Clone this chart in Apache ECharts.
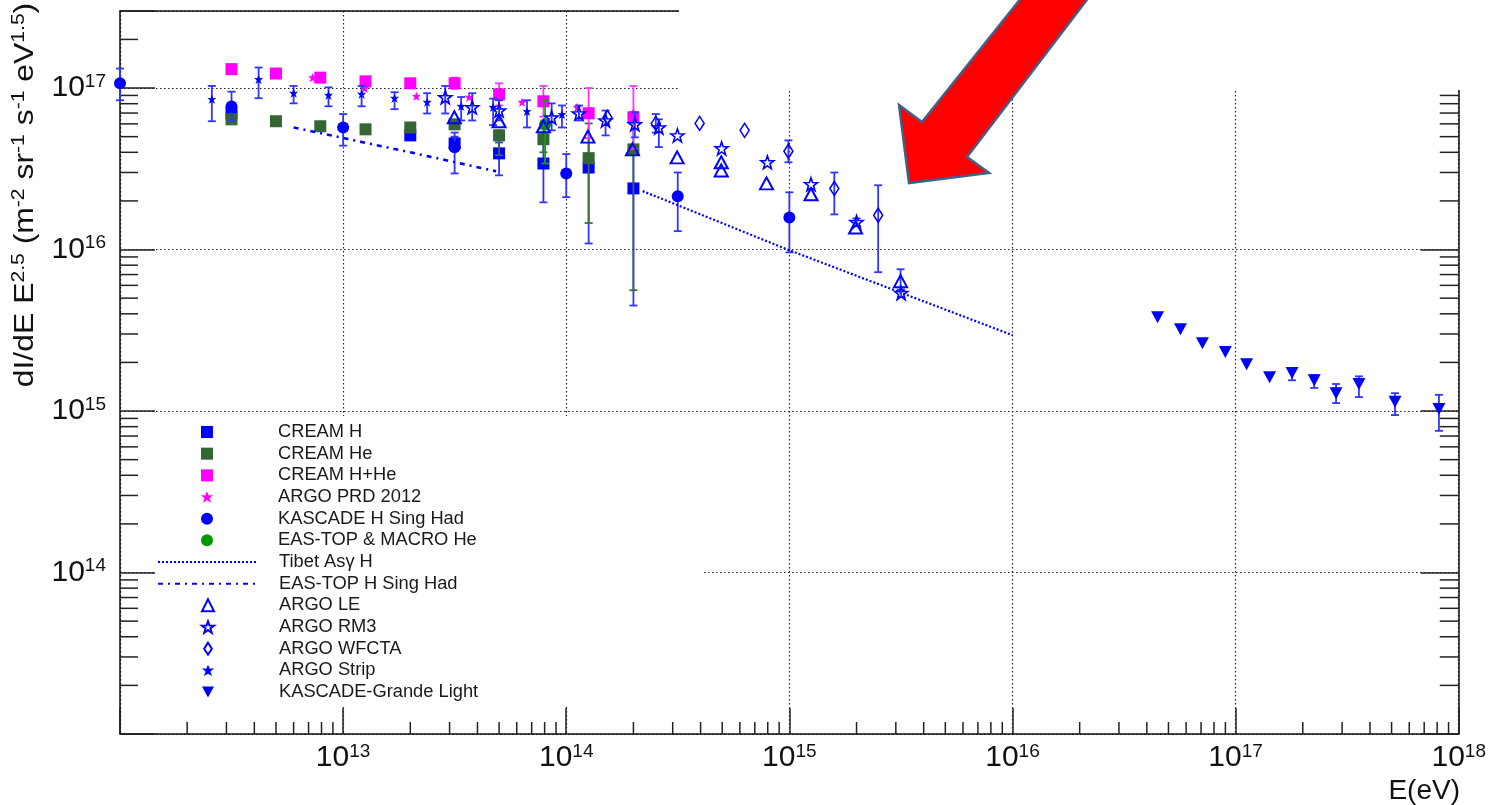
<!DOCTYPE html>
<html>
<head>
<meta charset="utf-8">
<script src="https://cdn.jsdelivr.net/npm/echarts@6/dist/echarts.min.js"></script>
<style>
  html, body { margin: 0; padding: 0; background: #fff; }
  #chart { width: 1489px; height: 805px; }
</style>
</head>
<body>
<div id="chart"></div>
<script>
// Proton / light-component spectra, flux multiplied by E^2.5
// Energies in eV, fluxes in m^-2 sr^-1 s^-1 eV^1.5

const creamBinsE = [3.16e12, 5.0e12, 7.9e12, 1.26e13, 2.0e13, 3.16e13, 5.0e13, 7.9e13, 1.26e14, 2.0e14];

const creamH_E  = [3.16e12, 2.0e13, 3.16e13, 5.0e13, 7.9e13, 1.26e14, 2.0e14];
const creamH_F  = [6.98e16, 5.09e16, 4.54e16, 3.94e16, 3.41e16, 3.22e16, 2.39e16];
const creamH_lo = [null, null, 4.1e16, 2.88e16, 1.96e16, 1.09e16, 4.5e15];
const creamH_hi = [null, null, 5.0e16, 4.6e16, 4.6e16, 4.9e16, 4.1e16];

const creamHe_F  = [6.4e16, 6.23e16, 5.8e16, 5.55e16, 5.7e16, 5.96e16, 5.09e16, 4.82e16, 3.68e16, 4.17e16];
const creamHe_lo = [null, null, null, null, null, null, 3.84e16, 4.0e16, 1.46e16, 5.6e15];
const creamHe_hi = [null, null, null, null, null, null, 5.47e16, 5.6e16, 6.04e16, 6.98e16];

const creamHHe_F  = [1.31e17, 1.23e17, 1.16e17, 1.10e17, 1.07e17, 1.07e17, 9.14e16, 8.28e16, 6.98e16, 6.59e16];
const creamHHe_lo = [null, null, null, null, 1.0e17, 9.9e16, 7.8e16, 6.65e16, 4.9e16, 4.2e16];
const creamHHe_hi = [null, null, null, null, 1.14e17, 1.16e17, 1.07e17, 1.03e17, 1.0e17, 1.03e17];

const argoPrd_E = [7.3e12, 1.25e13, 2.13e13, 3.67e13, 6.34e13, 1.12e14, 2.0e14];
const argoPrd_F = [1.16e17, 9.95e16, 8.89e16, 8.77e16, 8.17e16, 7.6e16, 7.06e16];

const kascadeH_E  = [1.0e12, 3.16e12, 1.0e13, 3.16e13, 1.0e14, 3.16e14, 1.0e15];
const kascadeH_F  = [1.07e17, 7.7e16, 5.7e16, 4.3e16, 2.96e16, 2.14e16, 1.58e16];
const kascadeH_lo = [8.4e16, 6.3e16, 4.4e16, 2.96e16, 2.11e16, 1.30e16, 9.6e15];
const kascadeH_hi = [1.32e17, 9.5e16, 6.9e16, 5.3e16, 3.9e16, 3.0e16, 2.26e16];

const eastopMacro_E  = [8.04e13];
const eastopMacro_F  = [5.96e16];
const eastopMacro_lo = [3.41e16];
const eastopMacro_hi = [8.4e16];

const tibet_E = [2.2e14, 1.0e15, 1.0e16];
const tibet_F = [2.3e16, 9.9e15, 2.95e15];

const eastopH_E = [6.0e12, 2.0e13, 4.85e13];
const eastopH_F = [5.7e16, 4.0e16, 3.05e16];

const argoLE_E  = [3.15e13, 5.0e13, 7.9e13, 1.25e14, 1.98e14, 3.14e14, 4.95e14, 4.95e14, 7.9e14, 1.25e15, 1.98e15, 3.15e15];
const argoLE_F  = [6.59e16, 6.23e16, 5.8e16, 5.0e16, 4.17e16, 3.72e16, 3.47e16, 3.09e16, 2.57e16, 2.2e16, 1.37e16, 6.37e15];
const argoLE_lo = [null, null, null, null, null, null, null, null, null, null, null, 5.6e15];
const argoLE_hi = [null, null, null, null, null, null, null, null, null, null, null, 7.55e15];

const argoRM3_E  = [2.87e13, 3.79e13, 5.0e13, 8.6e13, 1.14e14, 1.5e14, 2.03e14, 2.6e14, 3.15e14, 4.97e14, 7.97e14, 1.25e15, 2.0e15, 3.17e15];
const argoRM3_F  = [8.77e16, 7.6e16, 7.26e16, 6.57e16, 6.96e16, 6.3e16, 5.97e16, 5.7e16, 5.09e16, 4.23e16, 3.47e16, 2.54e16, 1.48e16, 5.37e15];
const argoRM3_lo = [6.96e16, 6.3e16, 6.3e16, 5.47e16, 6.3e16, 5.09e16, 4.95e16, 4.31e16, null, null, null, null, 1.4e16, 5.1e15];
const argoRM3_hi = [1.03e17, 9.29e16, 8.4e16, 8.04e16, 7.8e16, 7.26e16, 7.06e16, 6.4e16, null, null, null, null, 1.56e16, 5.65e15];

const argoWFCTA_E  = [1.53e14, 2.52e14, 3.96e14, 6.3e14, 9.9e14, 1.59e15, 2.5e15];
const argoWFCTA_F  = [6.57e16, 6.04e16, 6.04e16, 5.47e16, 4.06e16, 2.39e16, 1.63e16];
const argoWFCTA_lo = [null, 5.3e16, null, null, 3.47e16, 1.65e16, 7.24e15];
const argoWFCTA_hi = [null, 6.9e16, null, null, 4.74e16, 3.0e16, 2.5e16];

const argoStrip_E  = [2.58e12, 4.18e12, 6.0e12, 8.6e12, 1.21e13, 1.7e13, 2.38e13, 3.38e13, 4.7e13, 6.67e13, 9.57e13];
const argoStrip_F  = [8.51e16, 1.13e17, 9.29e16, 9.02e16, 9.16e16, 8.65e16, 8.17e16, 7.71e16, 7.6e16, 7.17e16, 6.87e16];
const argoStrip_lo = [6.23e16, 8.65e16, 8.04e16, 7.71e16, 7.71e16, 7.4e16, 6.96e16, 6.3e16, 5.9e16, 5.7e16, 5.7e16];
const argoStrip_hi = [1.03e17, 1.34e17, 1.03e17, 1.01e17, 1.03e17, 9.42e16, 9.29e16, 8.8e16, 8.6e16, 8.4e16, 7.8e16];

const kgLight_E  = [4.47e16, 5.66e16, 7.1e16, 8.99e16, 1.12e17, 1.42e17, 1.79e17, 2.25e17, 2.82e17, 3.57e17, 5.18e17, 8.15e17];
const kgLight_F  = [3.81e15, 3.21e15, 2.63e15, 2.32e15, 1.95e15, 1.62e15, 1.72e15, 1.55e15, 1.29e15, 1.47e15, 1.14e15, 1.03e15];
const kgLight_lo = [null, null, null, null, null, null, 1.55e15, 1.39e15, 1.12e15, 1.22e15, 9.44e14, 7.54e14];
const kgLight_hi = [null, null, null, null, null, null, 1.85e15, 1.67e15, 1.47e15, 1.64e15, 1.29e15, 1.26e15];

// axis ranges
const xMin = 1e12, xMax = 1e18;
const yMin = 1e13, yMax = 3e17;

const FONT = 'Liberation Sans, Arial, sans-serif';
const BLUE = '#0000ff';
const ERR_BLUE = '#3434ff';

const STAR = 'path://M0,-10 L2.35,-3.24 L9.51,-3.09 L3.8,1.24 L5.88,8.09 L0,4 L-5.88,8.09 L-3.8,1.24 L-9.51,-3.09 L-2.35,-3.24 Z';
const SMALL_STAR = 'path://M0,-10 L3,-3 L10,-4 L4,2 L7,9 L0,5 L-7,9 L-4,2 L-10,-4 L-3,-3 Z';
const NARROW_DIAMOND = 'path://M0,-7 L4.5,0 L0,7 L-4.5,0 Z';
const DOWN_TRIANGLE = 'path://M-6,-5 L6,-5 L0,6 Z';

// minor tick positions on the log axes (2..9 within each decade)
const minorX = [];
for (let p = 12; p < 18; p++) for (let m = 2; m <= 9; m++) minorX.push(m * Math.pow(10, p));
const minorY = [];
for (let p = 13; p <= 17; p++) for (let m = 2; m <= 9; m++) {
  const v = m * Math.pow(10, p);
  if (v < yMax * 0.999) minorY.push(v);
}

function pairs(E, F) { return E.map((e, i) => [e, F[i]]); }
function errRows(E, lo, hi) {
  const out = [];
  E.forEach((e, i) => { if (lo[i] != null && hi[i] != null) out.push([e, lo[i], hi[i]]); });
  return out;
}

function errSeries(name, E, lo, hi, color, z) {
  return {
    type: 'custom', name: name, z: z, silent: true,
    data: errRows(E, lo, hi),
    encode: { x: 0, y: [1, 2] },
    renderItem: function (params, api) {
      const a = api.coord([api.value(0), api.value(1)]);
      const b = api.coord([api.value(0), api.value(2)]);
      const st = { stroke: color, lineWidth: 1.8 };
      const c = 4;
      return { type: 'group', children: [
        { type: 'line', shape: { x1: a[0], y1: a[1], x2: b[0], y2: b[1] }, style: st },
        { type: 'line', shape: { x1: a[0] - c, y1: a[1], x2: a[0] + c, y2: a[1] }, style: st },
        { type: 'line', shape: { x1: b[0] - c, y1: b[1], x2: b[0] + c, y2: b[1] }, style: st }
      ]};
    }
  };
}

function tickSeries(kind) {
  // kind: 'x' bottom minor ticks, 'yl' left minor ticks, 'yr' right minor ticks
  const data = kind === 'x' ? minorX.map(v => [v, yMin]) : minorY.map(v => [kind === 'yl' ? xMin : xMax, v]);
  return {
    type: 'custom', silent: true, z: 1, clip: false,
    data: data, encode: { x: 0, y: 1 },
    renderItem: function (params, api) {
      const p = api.coord([api.value(0), api.value(1)]);
      let shape;
      if (kind === 'x') shape = { x1: p[0], y1: p[1], x2: p[0], y2: p[1] - 12 };
      else if (kind === 'yl') shape = { x1: p[0], y1: p[1], x2: p[0] + 18, y2: p[1] };
      else shape = { x1: p[0], y1: p[1], x2: p[0] - 19, y2: p[1] };
      return { type: 'line', shape: shape, style: { stroke: '#222', lineWidth: 1.5 } };
    }
  };
}

function powLabel(v, lowest) {
  const e = Math.log10(v);
  if (Math.abs(e - Math.round(e)) > 1e-6 || v <= lowest * 1.0001) return '';
  return '{b|10}{e|' + Math.round(e) + '}';
}
const labelRich = {
  b: { fontFamily: FONT, fontSize: 30, lineHeight: 32, color: '#111' },
  e: { fontFamily: FONT, fontSize: 19, lineHeight: 19, verticalAlign: 'top', color: '#111' }
};

const gridLine = { show: true, lineStyle: { color: '#222', width: 1.2, type: [1.5, 2.5] } };

const legendTop = 423, rowStep = 21.67;
const legendText = { fontFamily: FONT, fontSize: 18.3, color: '#1a1a1a', lineHeight: 18 };
const hiddenMark = { opacity: 0 };

const openStyle = { color: 'rgba(0,0,0,0)', borderColor: BLUE, borderWidth: 1.6, opacity: 1 };

const option = {
  animation: false,
  backgroundColor: '#fff',
  grid: { left: 120, right: 27, top: 11, bottom: 71, containLabel: false },
  xAxis: [
    {
      type: 'log', logBase: 10, min: xMin, max: xMax, position: 'bottom',
      axisLine: { show: true, onZero: false, lineStyle: { color: '#111', width: 1.5 } },
      axisTick: { show: true, inside: true, length: 26, lineStyle: { color: '#222', width: 1.5 } },
      axisLabel: { show: true, margin: 8, formatter: v => powLabel(v, xMin), rich: labelRich },
      splitLine: gridLine
    },
    {
      type: 'log', logBase: 10, min: xMin, max: xMax, position: 'top',
      axisLine: { show: true, onZero: false, lineStyle: { color: '#111', width: 1.5 } },
      axisTick: { show: false }, axisLabel: { show: false }, splitLine: { show: false }
    }
  ],
  yAxis: [
    {
      type: 'log', logBase: 10, min: yMin, max: yMax, position: 'left',
      axisLine: { show: true, onZero: false, lineStyle: { color: '#111', width: 1.5 } },
      axisTick: { show: true, inside: true, length: 35, lineStyle: { color: '#222', width: 1.5 } },
      axisLabel: { show: true, margin: 14, formatter: v => powLabel(v, yMin), rich: labelRich },
      splitLine: gridLine
    },
    {
      type: 'log', logBase: 10, min: yMin, max: yMax, position: 'right',
      axisLine: { show: true, onZero: false, lineStyle: { color: '#111', width: 1.5 } },
      axisTick: { show: true, inside: true, length: 38, lineStyle: { color: '#222', width: 1.5 } },
      axisLabel: { show: false }, splitLine: { show: false }
    }
  ],
  legend: [
    {
      orient: 'vertical', left: 201, top: legendTop, itemWidth: 12, itemHeight: 12, itemGap: 3.67,
      padding: 0, selectedMode: false, z: 6,
      data: ['CREAM H', 'CREAM He', 'CREAM H+He', 'ARGO PRD 2012', 'KASCADE H Sing Had', 'EAS-TOP & MACRO He'],
      textStyle: Object.assign({ padding: [0, 0, 0, 60] }, legendText)
    },
    {
      orient: 'vertical', left: 157, top: legendTop + 6 * rowStep, itemWidth: 100, itemHeight: 12, itemGap: 3.67,
      padding: 0, selectedMode: false, z: 6,
      data: [{ name: 'Tibet As\u03b3 H', itemStyle: hiddenMark }, { name: 'EAS-TOP H Sing Had', itemStyle: hiddenMark }],
      textStyle: Object.assign({ padding: [0, 0, 0, 16] }, legendText)
    },
    {
      orient: 'vertical', left: 201, top: legendTop + 8 * rowStep, itemWidth: 12, itemHeight: 12, itemGap: 3.67,
      padding: 0, selectedMode: false, z: 6,
      data: ['ARGO LE', 'ARGO RM3', { name: 'ARGO WFCTA', icon: NARROW_DIAMOND }, 'ARGO Strip',
        { name: 'KASCADE-Grande Light', icon: DOWN_TRIANGLE }],
      textStyle: Object.assign({ padding: [0, 0, 0, 60] }, legendText)
    }
  ],
  graphic: [
    // white legend panel over the grid lines
    { type: 'rect', left: 155, top: 416, shape: { width: 549, height: 291 }, style: { fill: '#fff' }, z: 1 },
    // blank panel in the upper right behind the arrow
    { type: 'rect', left: 679, top: 0, shape: { width: 810, height: 90 }, style: { fill: '#fff' }, z: 50 },
    // red arrow
    { type: 'polygon', z: 60,
      shape: { points: [[909, 183], [899, 105], [922, 122], [1022, -3], [1089, -3], [967, 157], [989, 173]] },
      style: { fill: '#ff0000', stroke: '#3f6089', lineWidth: 2.5, lineJoin: 'miter' } },
    // y axis title
    { type: 'text', z: 5, x: 25, y: 195, rotation: Math.PI / 2, scaleX: 1.14,
      style: {
        text: '{t|dI/dE E}{s|2.5}{t| (m}{s|-2}{t| sr}{s|-1}{t| s}{s|-1}{t| eV}{s|1.5}{t|)}',
        align: 'center', verticalAlign: 'middle',
        rich: {
          t: { fontFamily: FONT, fontSize: 28, lineHeight: 32, fill: '#111' },
          s: { fontFamily: FONT, fontSize: 18.5, lineHeight: 18, verticalAlign: 'top', fill: '#111' }
        }
      } },
    // x axis title
    { type: 'text', z: 5, x: 1460, y: 805,
      style: { text: 'E(eV)', fontFamily: FONT, fontSize: 28, fill: '#111', align: 'right', verticalAlign: 'bottom' } }
  ],
  series: [
    tickSeries('x'), tickSeries('yl'), tickSeries('yr'),

    errSeries('CREAM H err', creamH_E, creamH_lo, creamH_hi, ERR_BLUE, 3),
    { type: 'scatter', name: 'CREAM H', z: 4, symbol: 'rect', symbolSize: 12,
      itemStyle: { color: BLUE, opacity: 1 }, data: pairs(creamH_E, creamH_F) },

    errSeries('CREAM He err', creamBinsE, creamHe_lo, creamHe_hi, '#3d6b3d', 5),
    { type: 'scatter', name: 'CREAM He', z: 6, symbol: 'rect', symbolSize: 12,
      itemStyle: { color: '#336633', opacity: 1 }, data: pairs(creamBinsE, creamHe_F) },

    errSeries('CREAM H+He err', creamBinsE, creamHHe_lo, creamHHe_hi, '#ff33ff', 7),
    { type: 'scatter', name: 'CREAM H+He', z: 8, symbol: 'rect', symbolSize: 12,
      itemStyle: { color: '#ff00ff', opacity: 1 }, data: pairs(creamBinsE, creamHHe_F) },

    { type: 'scatter', name: 'ARGO PRD 2012', z: 8, symbol: SMALL_STAR, symbolSize: 9,
      itemStyle: { color: '#ff00ff', opacity: 1 }, data: pairs(argoPrd_E, argoPrd_F) },

    errSeries('KASCADE H err', kascadeH_E, kascadeH_lo, kascadeH_hi, ERR_BLUE, 9),
    { type: 'scatter', name: 'KASCADE H Sing Had', z: 10, symbol: 'circle', symbolSize: 12,
      itemStyle: { color: BLUE, opacity: 1 }, data: pairs(kascadeH_E, kascadeH_F) },

    errSeries('EAS-TOP MACRO err', eastopMacro_E, eastopMacro_lo, eastopMacro_hi, '#11a011', 11),
    { type: 'scatter', name: 'EAS-TOP & MACRO He', z: 12, symbol: 'circle', symbolSize: 12,
      itemStyle: { color: '#009900', opacity: 1 }, data: pairs(eastopMacro_E, eastopMacro_F) },

    { type: 'line', name: 'Tibet As\u03b3 H', z: 12, symbol: 'none', showSymbol: false,
      lineStyle: { color: BLUE, width: 2.2, type: [2, 2] }, data: pairs(tibet_E, tibet_F) },

    { type: 'line', name: 'EAS-TOP H Sing Had', z: 12, symbol: 'none', showSymbol: false,
      lineStyle: { color: BLUE, width: 2.6, type: [5, 5, 2, 5] }, data: pairs(eastopH_E, eastopH_F) },

    errSeries('ARGO LE err', argoLE_E, argoLE_lo, argoLE_hi, ERR_BLUE, 13),
    { type: 'scatter', name: 'ARGO LE', z: 14, symbol: 'triangle', symbolSize: [13, 12],
      itemStyle: Object.assign({}, openStyle, { borderWidth: 2 }), data: pairs(argoLE_E, argoLE_F) },

    errSeries('ARGO RM3 err', argoRM3_E, argoRM3_lo, argoRM3_hi, ERR_BLUE, 13),
    { type: 'scatter', name: 'ARGO RM3', z: 14, symbol: STAR, symbolSize: 13,
      itemStyle: openStyle, data: pairs(argoRM3_E, argoRM3_F) },

    errSeries('ARGO WFCTA err', argoWFCTA_E, argoWFCTA_lo, argoWFCTA_hi, ERR_BLUE, 13),
    { type: 'scatter', name: 'ARGO WFCTA', z: 14, symbol: NARROW_DIAMOND, symbolSize: [9, 14],
      itemStyle: openStyle, data: pairs(argoWFCTA_E, argoWFCTA_F) },

    errSeries('ARGO Strip err', argoStrip_E, argoStrip_lo, argoStrip_hi, ERR_BLUE, 13),
    { type: 'scatter', name: 'ARGO Strip', z: 14, symbol: SMALL_STAR, symbolSize: 9,
      itemStyle: { color: BLUE, opacity: 1 }, data: pairs(argoStrip_E, argoStrip_F) },

    errSeries('KASCADE-Grande err', kgLight_E, kgLight_lo, kgLight_hi, ERR_BLUE, 13),
    { type: 'scatter', name: 'KASCADE-Grande Light', z: 14, symbol: DOWN_TRIANGLE,
      symbolSize: [13, 12], itemStyle: { color: BLUE, opacity: 1 }, data: pairs(kgLight_E, kgLight_F) }
  ]
};

const chart = echarts.init(document.getElementById('chart'), null, { renderer: 'canvas' });
chart.setOption(option);
</script>
</body>
</html>
